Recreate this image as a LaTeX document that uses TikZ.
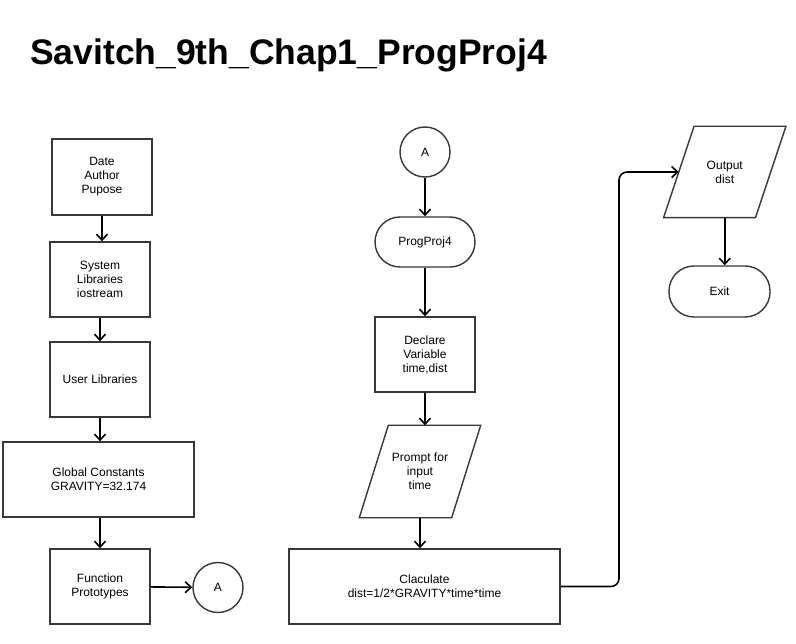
\documentclass[tikz,border=0pt]{standalone}
\usepackage{fontspec}
\setmainfont{Liberation Sans}
\usetikzlibrary{arrows.meta}

\begin{document}
\begin{tikzpicture}[
    x=1pt, y=-1pt,
    >={Straight Barb[length=6pt, width=11pt, line width=1.6pt]}, % Set default arrow tip style
    block/.style={draw=black!78, line width=1.4pt, rectangle, align=center,
                  font=\fontsize{12}{14}\selectfont, inner sep=0pt}, % Style for process boxes
    term/.style={block, rounded corners=25pt, minimum width=100pt, minimum height=50pt}, % Start / end
    io/.style={block, draw=none}, % Body of input / output (outline drawn below)
    outline/.style={draw=black!78, line width=1.4pt, line join=miter}, % Parallelogram outline
    conn/.style={block, circle, minimum size=50pt}, % Off-page connector
    flow/.style={->, line width=1.6pt} % Style for arrows
]
    \useasboundingbox (0,0) rectangle (796,644);

    % Title
    \node[anchor=base west, font=\fontsize{35.5}{40}\selectfont\bfseries, inner sep=0pt]
        (title) at (30,65) {Savitch\_9th\_Chap1\_ProgProj4};

    % Left column
    \node[block, minimum width=100pt, minimum height=76pt] (header) at (102,177) {Date\\Author\\Pupose};
    \node[block, minimum width=100pt, minimum height=75pt] (syslib) at (100,279.5) {System\\Libraries\\iostream};
    \node[block, minimum width=100pt, minimum height=75pt] (userlib) at (100,379.5) {User Libraries};
    \node[block, minimum width=191pt, minimum height=75pt] (globals) at (98.5,479.5) {Global Constants\\GRAVITY=32.174};
    \node[block, minimum width=100pt, minimum height=75pt] (protos) at (100,586.5) {Function\\Prototypes};
    \node[conn] (connA) at (218,587.5) {A};

    % Middle column
    \node[conn] (startA) at (425,152) {A};
    \node[term] (main) at (425,242) {ProgProj4};
    \node[block, minimum width=100pt, minimum height=75pt] (decl) at (425,354.5) {Declare\\Variable\\time,dist};
    \node[io, minimum width=91pt, minimum height=91pt] (prompt) at (420,471.5) {Prompt for\\input\\time};
    \draw[outline] ([xshift=14.5pt]prompt.north west) -- ([xshift=14.5pt]prompt.north east)
        -- ([xshift=-14.5pt]prompt.south east) -- ([xshift=-14.5pt]prompt.south west) -- cycle;
    \node[block, minimum width=271pt, minimum height=75pt] (calc) at (424.5,586.5) {Claculate\\dist=1/2*GRAVITY*time*time};

    % Right column
    \node[io, minimum width=90.5pt, minimum height=90pt] (output) at (724.75,172) {Output\\dist};
    \draw[outline] ([xshift=15.25pt]output.north west) -- ([xshift=15.25pt]output.north east)
        -- ([xshift=-15.25pt]output.south east) -- ([xshift=-15.25pt]output.south west) -- cycle;
    \node[term, minimum width=101pt, minimum height=51pt] (exit) at (719.5,291.5) {Exit};
    \coordinate (bend) at (619,0);

    % Arrows
    \draw[flow] (header.south) -- (header.south |- syslib.north);
    \draw[flow] (syslib) -- (userlib);
    \draw[flow] (userlib.south) -- (userlib.south |- globals.north);
    \draw[flow] (globals.south -| protos) -- (protos);
    \draw[flow] (protos) -- (connA);
    \draw[flow] (startA) -- (main);
    \draw[flow] (main) -- (decl);
    \draw[flow] (decl.south) -- (decl.south |- prompt.north);
    \draw[flow] (prompt.south) -- (prompt.south |- calc.north);
    \draw[flow, rounded corners=8pt] (calc.east) -| (bend |- output.west) -- (output.west);
    \draw[flow] (output.south) -- (output.south |- exit.north);

\end{tikzpicture}
\end{document}
